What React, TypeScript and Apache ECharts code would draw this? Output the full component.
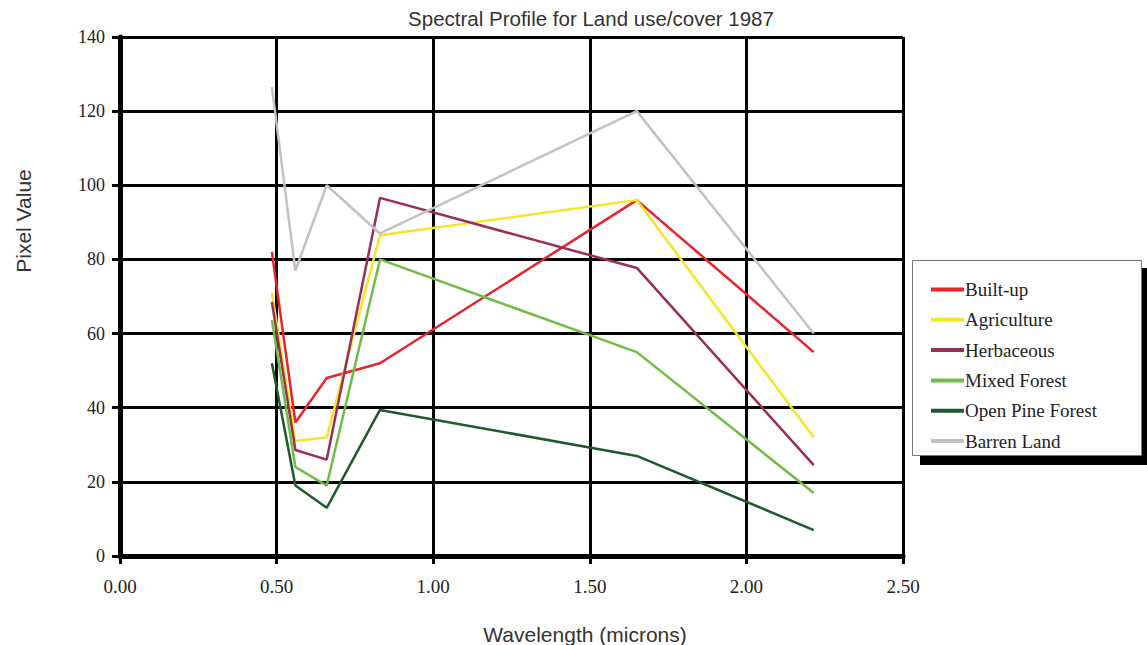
import React, { useEffect, useRef } from "react";
import * as echarts from "echarts";

const wavelengths = [0.485, 0.56, 0.66, 0.83, 1.65, 2.215];
const seriesNames = ["Built-up", "Agriculture", "Herbaceous", "Mixed Forest", "Open Pine Forest", "Barren Land"];
const builtUp = [82, 36, 48, 52, 96, 55];
const agriculture = [71, 31, 32, 86.5, 96, 32];
const herbaceous = [68.5, 28.6, 26, 96.6, 77.7, 24.5];
const mixedForest = [63.7, 24, 19, 80, 55, 17];
const openPineForest = [52, 19, 13, 39.4, 27, 7];
const barrenLand = [126.5, 77, 100, 87, 120, 60];
const seriesColors = ["#e8232a", "#f4e526", "#9b2d5a", "#6fbd45", "#1f5a2c", "#c2c2c2"];
const xTicks = [0, 0.5, 1.0, 1.5, 2.0, 2.5];
const yTicks = [0, 20, 40, 60, 80, 100, 120, 140];

const allValues = [builtUp, agriculture, herbaceous, mixedForest, openPineForest, barrenLand];

export default function App() {
  const ref = useRef<HTMLDivElement>(null);
  useEffect(() => {
    if (!ref.current) return;
    const chart = echarts.init(ref.current, null, { renderer: "svg" });
    const serif = "'Liberation Serif', 'Times New Roman', serif";
    const sans = "'Liberation Sans', Arial, sans-serif";
    chart.setOption({
      animation: false,
      backgroundColor: "#ffffff",
      grid: { left: 120, right: 244, top: 37, bottom: 89 },
      xAxis: {
        type: "value",
        min: xTicks[0],
        max: xTicks[xTicks.length - 1],
        interval: 0.5,
        axisLine: { show: true, onZero: false, lineStyle: { color: "#000", width: 5 } },
        axisTick: { show: true, length: 8, lineStyle: { color: "#000", width: 3 } },
        axisLabel: {
          margin: 21,
          color: "#222",
          fontFamily: serif,
          fontSize: 19,
          formatter: (v: number) => v.toFixed(2),
        },
        splitLine: { show: true, lineStyle: { color: "#000", width: 3 } },
      },
      yAxis: {
        type: "value",
        min: yTicks[0],
        max: yTicks[yTicks.length - 1],
        interval: 20,
        axisLine: { show: true, lineStyle: { color: "#000", width: 5 } },
        axisTick: { show: true, length: 8, lineStyle: { color: "#000", width: 3 } },
        axisLabel: { margin: 15, color: "#222", fontFamily: serif, fontSize: 18 },
        splitLine: { show: true, lineStyle: { color: "#000", width: 3 } },
      },
      legend: {
        orient: "vertical",
        left: 926,
        top: 275,
        itemWidth: 33,
        itemHeight: 4,
        itemGap: 11.3,
        icon: "rect",
        textStyle: { fontFamily: serif, fontSize: 19, color: "#222", padding: [0, 0, 0, -4], lineHeight: 19 },
        data: seriesNames,
      },
      graphic: [
        { type: "rect", shape: { x: 920, y: 268, width: 230, height: 197 }, style: { fill: "#000" }, z: 0 },
        { type: "rect", shape: { x: 912.5, y: 260.5, width: 229, height: 195 }, style: { fill: "#fff", stroke: "#777", lineWidth: 1 }, z: 1 },
        {
          type: "text",
          x: 591,
          y: 18,
          style: { text: "Spectral Profile for Land use/cover 1987", font: `20.5px ${sans}`, fill: "#333", align: "center", verticalAlign: "middle" },
        },
        {
          type: "text",
          x: 585,
          y: 634,
          style: { text: "Wavelength (microns)", font: `21px ${sans}`, fill: "#333", align: "center", verticalAlign: "middle" },
        },
        {
          type: "text",
          x: 23,
          y: 221,
          rotation: Math.PI / 2,
          style: { text: "Pixel Value", font: `21px ${sans}`, fill: "#333", align: "center", verticalAlign: "middle" },
        },
      ],
      series: seriesNames.map((name, i) => ({
        name,
        type: "line",
        data: wavelengths.map((w, j) => [w, allValues[i][j]]),
        showSymbol: false,
        symbol: "none",
        lineStyle: { color: seriesColors[i], width: 2.5 },
        itemStyle: { color: seriesColors[i] },
        z: 3,
      })),
    });
    return () => chart.dispose();
  }, []);
  return <div ref={ref} style={{ position: "fixed", left: 0, top: 0, width: 1147, height: 645 }} />;
}
